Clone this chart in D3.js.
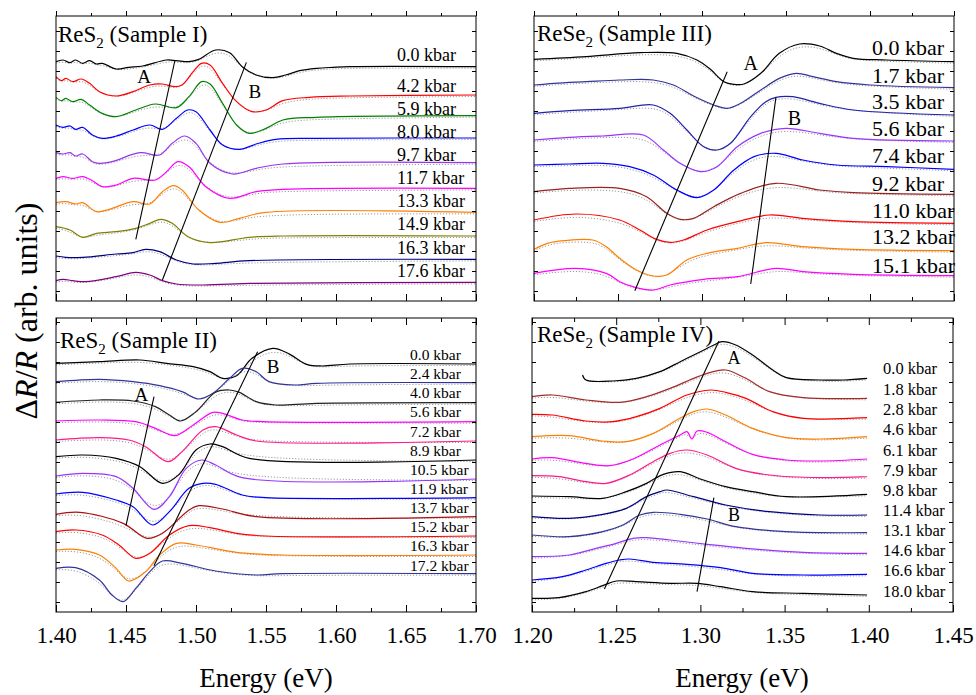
<!DOCTYPE html>
<html><head><meta charset="utf-8">
<script src="https://cdn.jsdelivr.net/npm/d3@7"></script>
<style>body{margin:0;background:#fff}svg text{font-family:'Liberation Serif','Times New Roman','DejaVu Serif',serif !important;fill:#000}</style>
</head><body><svg id="c" width="976" height="695" font-family="Liberation Serif, Times New Roman, DejaVu Serif, serif"></svg>
<script>
// ---------------- DATA ----------------
// Energies in eV, signal in arbitrary units (traces already offset for stacking)
const ticksLeftE  = [1.40,1.45,1.50,1.55,1.60,1.65,1.70];
const ticksRightE = [1.20,1.25,1.30,1.35,1.40,1.45];

// ReS2 (Sample I)
const res2I_pressure = ["0.0","4.2","5.9","8.0","9.7","11.7","13.3","14.9","16.3","17.6"];
const res2I_spectra = [
 [[1.400,718],[1.405,723],[1.410,715],[1.414,723],[1.419,713],[1.424,721],[1.429,711],[1.433,713],[1.443,696],[1.452,701],[1.462,705],[1.479,723],[1.486,721],[1.495,718],[1.502,725],[1.514,753],[1.524,745],[1.533,703],[1.543,678],[1.555,670],[1.564,678],[1.574,691],[1.586,698],[1.598,701],[1.610,703],[1.700,703]],
 [[1.400,673],[1.404,661],[1.407,668],[1.412,658],[1.418,666],[1.424,653],[1.431,628],[1.443,615],[1.455,628],[1.467,648],[1.476,651],[1.485,643],[1.490,648],[1.498,688],[1.504,713],[1.510,708],[1.519,653],[1.529,598],[1.540,568],[1.550,573],[1.562,601],[1.581,611],[1.610,615],[1.700,618]],
 [[1.400,611],[1.404,601],[1.407,608],[1.412,598],[1.418,605],[1.424,588],[1.433,563],[1.443,553],[1.457,573],[1.471,591],[1.486,580],[1.495,613],[1.504,658],[1.510,651],[1.519,593],[1.529,528],[1.538,503],[1.550,518],[1.562,543],[1.586,551],[1.700,556]],
 [[1.400,528],[1.405,521],[1.410,525],[1.414,515],[1.419,521],[1.426,498],[1.433,488],[1.443,495],[1.455,513],[1.467,528],[1.476,515],[1.486,548],[1.494,573],[1.500,568],[1.510,513],[1.519,468],[1.531,455],[1.543,471],[1.557,485],[1.586,488],[1.700,489]],
 [[1.400,445],[1.405,441],[1.410,445],[1.414,435],[1.419,441],[1.426,418],[1.431,413],[1.440,418],[1.460,445],[1.474,438],[1.483,473],[1.492,495],[1.500,473],[1.510,413],[1.526,381],[1.543,398],[1.562,411],[1.700,415]],
 [[1.400,368],[1.405,373],[1.412,368],[1.419,373],[1.426,361],[1.433,343],[1.443,348],[1.455,368],[1.471,363],[1.479,388],[1.487,418],[1.495,403],[1.507,343],[1.524,308],[1.543,328],[1.562,335],[1.700,338]],
 [[1.400,295],[1.407,298],[1.414,291],[1.419,295],[1.429,268],[1.438,275],[1.455,298],[1.467,291],[1.476,328],[1.484,346],[1.490,333],[1.502,273],[1.517,236],[1.531,248],[1.550,266],[1.700,266]],
 [[1.400,223],[1.410,213],[1.419,191],[1.429,203],[1.443,208],[1.457,218],[1.467,233],[1.475,245],[1.483,233],[1.495,191],[1.510,175],[1.538,191],[1.562,195],[1.700,195]],
 [[1.400,135],[1.407,131],[1.419,131],[1.443,141],[1.455,145],[1.464,155],[1.474,148],[1.486,123],[1.498,111],[1.514,113],[1.538,121],[1.700,125]],
 [[1.400,61],[1.405,65],[1.412,61],[1.421,58],[1.443,73],[1.457,86],[1.467,78],[1.476,61],[1.486,51],[1.502,48],[1.538,53],[1.700,56]]
];
const res2I_lineA = [[1.485,723],[1.457,185]];
const res2I_lineB = [[1.536,716],[1.476,63]];

// ReS2 (Sample II)
const res2II_pressure = ["0.0","2.4","4.0","5.6","7.2","8.9","10.5","11.9","13.7","15.2","16.3","17.2"];
const res2II_spectra = [
 [[1.400,746],[1.431,751],[1.460,756],[1.479,746],[1.498,736],[1.510,721],[1.519,701],[1.529,709],[1.540,761],[1.555,791],[1.567,773],[1.579,743],[1.590,738],[1.610,744],[1.700,744]],
 [[1.400,691],[1.431,698],[1.455,691],[1.474,679],[1.490,661],[1.502,639],[1.512,656],[1.524,701],[1.533,731],[1.543,721],[1.552,691],[1.571,681],[1.586,686],[1.700,688]],
 [[1.400,629],[1.431,636],[1.455,633],[1.471,616],[1.481,591],[1.489,573],[1.500,601],[1.514,659],[1.524,666],[1.531,659],[1.543,631],[1.557,621],[1.586,626],[1.700,628]],
 [[1.400,573],[1.431,576],[1.457,571],[1.471,551],[1.485,529],[1.498,561],[1.512,599],[1.519,596],[1.533,576],[1.548,571],[1.700,571]],
 [[1.400,516],[1.431,523],[1.452,516],[1.464,496],[1.480,451],[1.490,481],[1.505,546],[1.514,556],[1.529,531],[1.543,513],[1.700,513]],
 [[1.400,466],[1.419,471],[1.443,461],[1.460,436],[1.476,386],[1.488,413],[1.500,486],[1.510,504],[1.519,496],[1.538,461],[1.700,456]],
 [[1.400,408],[1.419,416],[1.443,406],[1.455,371],[1.470,308],[1.481,346],[1.493,431],[1.504,456],[1.514,441],[1.533,403],[1.700,399]],
 [[1.400,354],[1.419,359],[1.443,336],[1.455,316],[1.469,261],[1.481,301],[1.495,371],[1.505,386],[1.514,383],[1.533,351],[1.550,343],[1.700,343]],
 [[1.400,293],[1.417,299],[1.448,266],[1.465,221],[1.476,236],[1.495,306],[1.502,319],[1.519,309],[1.543,286],[1.700,286]],
 [[1.400,241],[1.414,246],[1.433,231],[1.445,201],[1.457,161],[1.467,176],[1.481,231],[1.495,259],[1.510,253],[1.529,236],[1.550,228],[1.700,228]],
 [[1.400,186],[1.414,188],[1.431,171],[1.443,131],[1.452,93],[1.464,121],[1.474,171],[1.486,206],[1.500,201],[1.529,179],[1.562,171],[1.700,171]],
 [[1.400,131],[1.414,133],[1.431,96],[1.440,51],[1.448,31],[1.457,71],[1.467,121],[1.476,153],[1.490,146],[1.514,123],[1.543,111],[1.562,115],[1.700,115]]
];
const res2II_lineA = [[1.470,646],[1.450,259]];
const res2II_lineB = [[1.544,781],[1.470,139]];

// ReSe2 (Sample III)
const rese2III_pressure = ["0.0","1.7","3.5","5.6","7.4","9.2","11.0","13.2","15.1"];
const rese2III_spectra = [
 [[1.200,725],[1.231,733],[1.263,745],[1.285,743],[1.297,723],[1.305,695],[1.313,658],[1.319,650],[1.325,651],[1.335,683],[1.346,743],[1.358,771],[1.370,765],[1.380,743],[1.390,728],[1.410,723],[1.450,718]],
 [[1.200,648],[1.212,653],[1.231,658],[1.251,663],[1.271,663],[1.283,648],[1.295,615],[1.307,588],[1.315,578],[1.323,593],[1.335,633],[1.346,668],[1.356,683],[1.366,673],[1.380,658],[1.400,648],[1.450,640]],
 [[1.200,563],[1.221,571],[1.251,578],[1.271,588],[1.281,563],[1.291,513],[1.301,463],[1.309,453],[1.317,473],[1.329,553],[1.338,598],[1.344,611],[1.354,613],[1.370,593],[1.390,573],[1.450,558]],
 [[1.200,483],[1.221,491],[1.241,495],[1.265,498],[1.277,453],[1.287,413],[1.299,388],[1.309,403],[1.321,463],[1.335,503],[1.350,518],[1.370,503],[1.390,488],[1.450,480]],
 [[1.200,408],[1.221,411],[1.241,413],[1.257,403],[1.271,378],[1.285,333],[1.297,310],[1.307,333],[1.319,393],[1.331,433],[1.344,443],[1.360,423],[1.380,408],[1.410,403],[1.450,395]],
 [[1.200,328],[1.221,338],[1.251,338],[1.267,313],[1.279,263],[1.287,245],[1.295,248],[1.307,283],[1.323,323],[1.344,353],[1.370,333],[1.390,325],[1.450,320]],
 [[1.200,243],[1.225,261],[1.251,243],[1.263,213],[1.273,185],[1.281,176],[1.289,183],[1.303,213],[1.321,238],[1.340,258],[1.360,248],[1.390,238],[1.450,233]],
 [[1.200,155],[1.208,173],[1.218,181],[1.235,183],[1.243,163],[1.251,128],[1.261,93],[1.271,75],[1.279,78],[1.291,123],[1.303,143],[1.321,158],[1.338,175],[1.360,163],[1.390,155],[1.450,151]],
 [[1.200,83],[1.225,98],[1.243,83],[1.251,58],[1.259,43],[1.271,33],[1.281,48],[1.301,65],[1.321,73],[1.344,98],[1.360,88],[1.390,80],[1.450,76]]
];
const rese2III_lineA = [[1.315,688],[1.260,31]];
const rese2III_lineB = [[1.344,611],[1.329,51]];

// ReSe2 (Sample IV)
const rese2IV_pressure = ["0.0","1.8","2.8","4.6","6.1","7.9","9.8","11.4","13.1","14.6","16.6","18.0"];
const rese2IV_spectra = [
 [[1.230,711],[1.232,696],[1.248,693],[1.262,701],[1.276,721],[1.288,751],[1.300,781],[1.308,801],[1.313,811],[1.321,801],[1.331,771],[1.343,726],[1.351,703],[1.371,696],[1.385,696],[1.399,701]],
 [[1.200,646],[1.212,651],[1.232,636],[1.252,629],[1.268,646],[1.282,671],[1.296,701],[1.306,719],[1.315,726],[1.327,701],[1.341,661],[1.361,643],[1.399,641]],
 [[1.200,593],[1.212,591],[1.232,573],[1.248,571],[1.262,586],[1.276,611],[1.292,651],[1.306,666],[1.315,659],[1.327,641],[1.343,601],[1.361,581],[1.399,583]],
 [[1.200,526],[1.222,529],[1.242,513],[1.256,511],[1.272,536],[1.286,576],[1.296,601],[1.304,609],[1.315,591],[1.331,551],[1.351,523],[1.371,519],[1.399,526]],
 [[1.200,459],[1.212,463],[1.232,446],[1.246,439],[1.260,459],[1.276,501],[1.288,531],[1.292,541],[1.295,519],[1.298,543],[1.304,539],[1.315,511],[1.331,473],[1.351,456],[1.371,453],[1.399,459]],
 [[1.200,409],[1.216,406],[1.232,391],[1.244,386],[1.258,411],[1.272,451],[1.282,476],[1.292,486],[1.304,471],[1.321,431],[1.341,411],[1.371,403],[1.399,406]],
 [[1.200,348],[1.222,346],[1.242,341],[1.256,361],[1.268,386],[1.278,413],[1.288,421],[1.300,399],[1.315,376],[1.331,361],[1.351,346],[1.399,353]],
 [[1.200,286],[1.222,281],[1.242,293],[1.256,311],[1.268,346],[1.276,361],[1.280,366],[1.296,346],[1.315,321],[1.341,301],[1.371,291],[1.399,291]],
 [[1.200,231],[1.222,226],[1.242,241],[1.254,261],[1.264,291],[1.272,299],[1.288,293],[1.304,279],[1.321,256],[1.351,241],[1.399,238]],
 [[1.200,166],[1.222,171],[1.238,191],[1.250,206],[1.260,221],[1.268,223],[1.282,216],[1.304,203],[1.327,191],[1.361,179],[1.399,176]],
 [[1.200,96],[1.218,106],[1.232,126],[1.244,146],[1.252,156],[1.258,159],[1.272,149],[1.292,143],[1.312,133],[1.331,116],[1.361,111],[1.399,113]],
 [[1.200,41],[1.216,43],[1.232,61],[1.242,79],[1.250,93],[1.262,91],[1.282,86],[1.298,86],[1.312,76],[1.331,61],[1.361,56],[1.399,51]]
];
const rese2IV_lineA = [[1.311,813],[1.243,69]];
const rese2IV_lineB = [[1.308,343],[1.298,61]];

// ---------------- STYLE / LAYOUT ----------------
const FONT = "'Liberation Serif','Times New Roman','DejaVu Serif',serif";
const colI   = ["#000000","#ff0000","#008000","#0000ff","#9933ee","#ff00ff","#ff8000","#808000","#000080","#800080"];
const colII  = ["#000000","#333399","#222222","#ff00ff","#ff1a8c","#000000","#9933ff","#0000ff","#aa1111","#ff0000","#ff8000","#333399"];
const colIII = ["#000000","#333399","#2222aa","#9933ff","#0000ff","#992222","#ff0000","#ff8000","#ff00ff"];
const colIV  = ["#000000","#a52a2a","#ff0000","#ff8000","#ff00ff","#ff1a8c","#000000","#000080","#333399","#9933ff","#0000ff","#000000"];

const panels = [
 {x0:56,x1:476,y0:16,y1:301,xd:[1.40,1.70],yd:[0,855],ticks:ticksLeftE,labels:false,
  title:["ReS","2"," (Sample I)"],tx:58,ty:42,
  pres:res2I_pressure,data:res2I_spectra,col:colI,lineA:res2I_lineA,lineB:res2I_lineB,
  A:[1.463,673],B:[1.542,628],abSize:19,
  kx:397,ky:[55,86,109,131.7,155,178.3,201,224.3,247.7,271],kSize:18},
 {x0:534,x1:954,y0:16,y1:301,xd:[1.20,1.45],yd:[0,855],ticks:ticksRightE,labels:false,
  title:["ReSe","2"," (Sample III)"],tx:537,ty:41,
  pres:rese2III_pressure,data:rese2III_spectra,col:colIII,lineA:rese2III_lineA,lineB:rese2III_lineB,
  A:[1.329,713],B:[1.355,548],abSize:20,
  kx:872,ky:[47.3,75,101.7,128.3,155.7,183.3,210,236.7,265],kSize:22},
 {x0:56,x1:476,y0:318,y1:612,xd:[1.40,1.70],yd:[0,882],ticks:ticksLeftE,labels:true,
  title:["ReS","2"," (Sample II)"],tx:60,ty:348,
  pres:res2II_pressure,data:res2II_spectra,col:colII,lineA:res2II_lineA,lineB:res2II_lineB,
  A:[1.461,653],B:[1.555,736],abSize:19,
  kx:410,ky:[354.3,373,392.7,411.7,431,450,469,488,507.7,526.7,545.7,565],kSize:15.5},
 {x0:532,x1:953,y0:318,y1:612,xd:[1.20,1.45],yd:[0,882],ticks:ticksRightE,labels:true,
  title:["ReSe","2"," (Sample IV)"],tx:537,ty:342,
  pres:rese2IV_pressure,data:rese2IV_spectra,col:colIV,lineA:rese2IV_lineA,lineB:rese2IV_lineB,
  A:[1.320,763],B:[1.320,291],abSize:18,
  kx:883,ky:[368,389,409,429,450,470,490,510,530,550,570,591],kSize:16.5}
];

const svg = d3.select("#c");

panels.forEach((p,pi)=>{
  const x = d3.scaleLinear().domain(p.xd).range([p.x0,p.x1]);
  const y = d3.scaleLinear().domain(p.yd).range([p.y1,p.y0]);
  const g = svg.append("g");
  const cid = "clip"+pi;
  svg.append("clipPath").attr("id",cid).append("rect")
    .attr("x",p.x0).attr("y",p.y0).attr("width",p.x1-p.x0).attr("height",p.y1-p.y0);
  const plot = g.append("g").attr("clip-path",`url(#${cid})`);

  const fit = d3.line().x(d=>x(d[0])).y(d=>y(d[1])).curve(d3.curveBasis);
  const ln  = d3.line().x(d=>x(d[0])).y(d=>y(d[1])).curve(d3.curveCatmullRom.alpha(0.5));

  p.data.forEach((s,i)=>{
    plot.append("path").attr("d",fit(s)).attr("fill","none")
      .attr("stroke","#9a9a9a").attr("stroke-width",1).attr("stroke-dasharray","1.2,1.8")
      .attr("transform","translate(0,1.5)");
    plot.append("path").attr("d",ln(s)).attr("fill","none")
      .attr("stroke",p.col[i]).attr("stroke-width",1.2);
  });

  [p.lineA,p.lineB].forEach(L=>{
    plot.append("path").attr("d",d3.line().x(d=>x(d[0])).y(d=>y(d[1]))(L))
      .attr("stroke","#000").attr("stroke-width",1.1).attr("fill","none");
  });
  const T = (sel)=>sel.attr("font-family",FONT).style("font-family",FONT);
  T(g.append("text").attr("x",x(p.A[0])).attr("y",y(p.A[1])).attr("text-anchor","middle")
    .attr("dominant-baseline","central").style("font-size",p.abSize+"px").text("A"));
  T(g.append("text").attr("x",x(p.B[0])).attr("y",y(p.B[1])).attr("text-anchor","middle")
    .attr("dominant-baseline","central").style("font-size",p.abSize+"px").text("B"));

  p.pres.forEach((t,i)=>{
    T(g.append("text").attr("x",p.kx).attr("y",p.ky[i]).attr("dominant-baseline","central")
      .style("font-size",p.kSize+"px").text(t+" kbar"));
  });

  const tt = T(g.append("text").attr("x",p.tx).attr("y",p.ty).style("font-size","23px"));
  tt.append("tspan").text(p.title[0]);
  tt.append("tspan").attr("dy",6).style("font-size","15px").text(p.title[1]);
  tt.append("tspan").attr("dy",-6).text(p.title[2]);

  const major = p.ticks;
  const minor = major.slice(0,-1).map((v,i)=>(v+major[i+1])/2);
  const bAx = g.append("g").attr("transform",`translate(0,${p.y1})`)
    .call(d3.axisBottom(x).tickValues(major).tickSize(-7).tickPadding(15)
      .tickFormat(p.labels?d3.format(".2f"):()=>""));
  g.append("g").attr("transform",`translate(0,${p.y1})`)
    .call(d3.axisBottom(x).tickValues(minor).tickSize(-4).tickFormat(()=>""));
  g.append("g").attr("transform",`translate(0,${p.y0})`)
    .call(d3.axisTop(x).tickValues(major).tickSize(p.y0<100?5:-7).tickFormat(()=>""));
  g.append("g").attr("transform",`translate(0,${p.y0})`)
    .call(d3.axisTop(x).tickValues(minor).tickSize(p.y0<100?3:-4).tickFormat(()=>""));
  const yt = d3.range(p.yd[0]+30,p.yd[1],60);
  g.append("g").attr("transform",`translate(${p.x0},0)`)
    .call(d3.axisLeft(y).tickValues(yt).tickSize(-4).tickFormat(()=>""));
  g.append("g").attr("transform",`translate(${p.x1},0)`)
    .call(d3.axisRight(y).tickValues(yt).tickSize(-4).tickFormat(()=>""));
  g.selectAll(".domain").remove();
  g.selectAll(".tick line").attr("stroke","#000");
  g.selectAll("g").attr("font-family",FONT);
  T(bAx.selectAll("text")).style("font-size","23px").attr("fill","#000");

  g.append("rect").attr("x",p.x0).attr("y",p.y0).attr("width",p.x1-p.x0).attr("height",p.y1-p.y0)
    .attr("fill","none").attr("stroke","#000").attr("stroke-width",1);
});

const TT = (sel)=>sel.attr("font-family",FONT).style("font-family",FONT);
TT(svg.append("text").attr("x",266).attr("y",687).attr("text-anchor","middle").style("font-size","27px").text("Energy (eV)"));
TT(svg.append("text").attr("x",742).attr("y",687).attr("text-anchor","middle").style("font-size","27px").text("Energy (eV)"));
const yl = TT(svg.append("text").attr("transform","translate(37,311) rotate(-90)").attr("text-anchor","middle").style("font-size","32px"));
yl.append("tspan").text("Δ");
yl.append("tspan").style("font-style","italic").text("R");
yl.append("tspan").text("/");
yl.append("tspan").style("font-style","italic").text("R");
yl.append("tspan").text(" (arb. units)");
</script></body></html>
